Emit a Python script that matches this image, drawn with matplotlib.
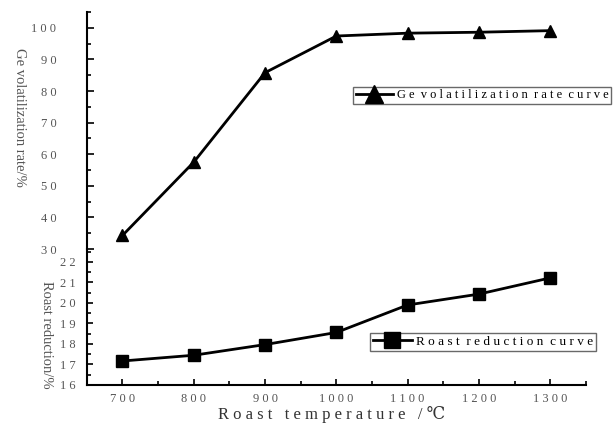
import matplotlib
matplotlib.use("Agg")
from matplotlib import pyplot as plt
from matplotlib.ticker import MultipleLocator, FuncFormatter

# Data
temps = [700, 800, 900, 1000, 1100, 1200, 1300]
ge_rate = [34.3, 57.5, 85.8, 97.4, 98.3, 98.6, 99.1]
reduction = [17.17, 17.45, 17.97, 18.56, 19.9, 20.43, 21.22]

x_ticks = [700, 800, 900, 1000, 1100, 1200, 1300]
top_ticks = [30, 40, 50, 60, 70, 80, 90, 100]
bottom_ticks = [16, 17, 18, 19, 20, 21, 22]

serif = ["Liberation Serif", "DejaVu Serif"]
plt.rcParams['font.family'] = serif
gray = '#555555'


def spaced(s):
    return " ".join(str(s))


def spaced_words(s):
    return "  ".join(spaced(w) for w in s.split())


spaced_fmt = FuncFormatter(lambda v, p: spaced(int(round(v))))

fig = plt.figure(dpi=100, figsize=(6.16, 4.24))
ax_top = fig.add_axes([0.141, 0.4127, 0.81, 0.559])
ax_bot = fig.add_axes([0.141, 0.092, 0.81, 0.3208])

# Upper panel: Ge volatilization
ax_top.plot(temps, ge_rate, c='black', lw=2, marker='^', ms=9,
            label=spaced_words("Ge volatilization rate curve"))
ax_top.set_xlim(650, 1350)
ax_top.set_ylim(30, 105)
ax_top.set_yticks(top_ticks)
ax_top.yaxis.set_minor_locator(MultipleLocator(5))
ax_top.yaxis.set_major_formatter(spaced_fmt)
for side in ['top', 'right', 'bottom']:
    ax_top.spines[side].set_visible(False)
ax_top.spines['left'].set_linewidth(1.5)
ax_top.tick_params(axis='x', which='both', bottom=False, labelbottom=False)
ax_top.tick_params(axis='y', which='major', direction='in', length=5, width=1.2,
                   labelsize=9, labelcolor=gray, pad=22)
ax_top.tick_params(axis='y', which='minor', direction='in', length=3, width=1.2)
ax_top.patch.set_alpha(0)

# Lower panel: roast reduction
ax_bot.plot(temps, reduction, c='black', lw=2, marker='s', ms=8,
            label=spaced_words("Roast reduction curve"))
ax_bot.set_xlim(650, 1350)
ax_bot.set_ylim(16, 22.63)
ax_bot.set_yticks(bottom_ticks)
ax_bot.yaxis.set_minor_locator(MultipleLocator(0.5))
ax_bot.yaxis.set_major_formatter(spaced_fmt)
ax_bot.set_xticks(x_ticks)
ax_bot.xaxis.set_minor_locator(MultipleLocator(50))
ax_bot.xaxis.set_major_formatter(spaced_fmt)
for side in ['top', 'right']:
    ax_bot.spines[side].set_visible(False)
ax_bot.spines['left'].set_linewidth(1.5)
ax_bot.spines['bottom'].set_linewidth(1.5)
ax_bot.tick_params(axis='both', which='major', direction='in', length=4, width=1.2,
                   labelsize=9, labelcolor=gray)
ax_bot.tick_params(axis='y', which='major', pad=8)
ax_bot.tick_params(axis='x', which='major', pad=6)
ax_bot.tick_params(axis='both', which='minor', direction='in', length=3, width=1.2)
ax_bot.patch.set_alpha(0)

# Axis labels
fig.text(0.031, 0.722, "Ge volatilization rate/%", rotation=270, fontsize=10.5,
         color=gray, ha='center', va='center')
fig.text(0.075, 0.21, "Roast reduction/%", rotation=270, fontsize=10.5,
         color=gray, ha='center', va='center')
fig.text(0.539, 0.022, "R o a s t   t e m p e r a t u r e   / ℃", fontsize=12,
         color='#333333', ha='center', va='center', family=serif)

# Legends
leg_style = dict(loc='upper left', bbox_transform=fig.transFigure, borderaxespad=0,
                 fancybox=False, edgecolor='#444444', handlelength=3.0,
                 borderpad=0.2, handletextpad=0.3, markerscale=1.4)
leg1 = ax_top.legend(bbox_to_anchor=(353 / 616, 1 - 87 / 424), fontsize=9,
                     **leg_style)
leg1.get_frame().set_linewidth(1.0)
leg2 = ax_bot.legend(bbox_to_anchor=(370 / 616, 1 - 333 / 424), fontsize=9.5,
                     **leg_style)
leg2.get_frame().set_linewidth(1.0)

plt.savefig('out.png', dpi=100)
